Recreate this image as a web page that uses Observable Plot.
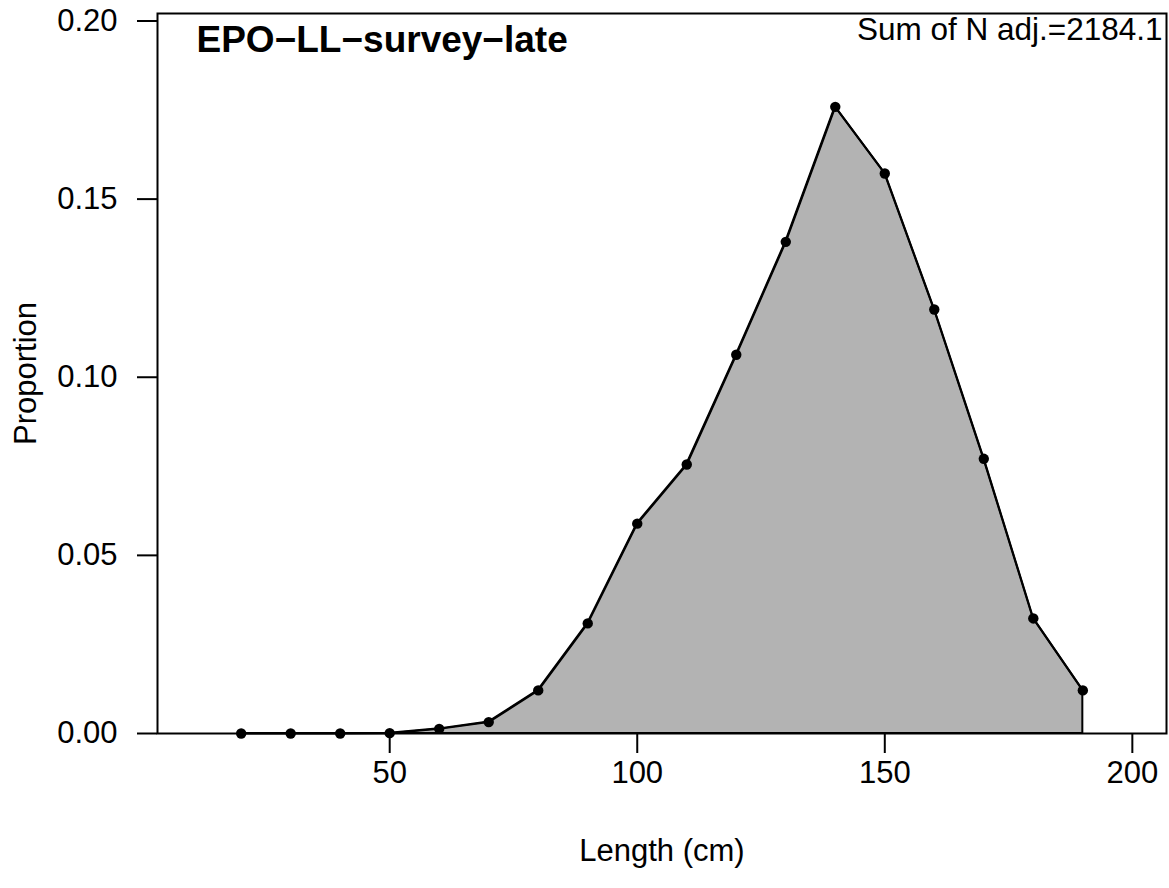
<!DOCTYPE html>
<html>
<head>
<meta charset="utf-8">
<script src="https://cdn.jsdelivr.net/npm/d3@7"></script>
<script src="https://cdn.jsdelivr.net/npm/@observablehq/plot@0.6"></script>
<style>
  html, body { margin: 0; padding: 0; background: #fff; }
</style>
</head>
<body>
<div id="chart"></div>
<script>
const lengths = [20, 30, 40, 50, 60, 70, 80, 90, 100, 110, 120, 130, 140, 150, 160, 170, 180, 190];
const proportions = [0, 0, 0, 0.0001, 0.0013, 0.0032, 0.0121, 0.0309, 0.0589, 0.0755, 0.1063, 0.1380, 0.1759, 0.1572, 0.1190, 0.0771, 0.0323, 0.0121];
const xTicks = [50, 100, 150, 200];
const yTicks = [0, 0.05, 0.10, 0.15, 0.20];
const fleetTitle = "EPO\u2212LL\u2212survey\u2212late";
const sumLabel = "Sum of N adj.=2184.1";
const xLabel = "Length (cm)";
const yLabel = "Proportion";

const data = lengths.map((L, i) => ({length: L, prop: proportions[i]}));

const font = "'Liberation Sans', Arial, Helvetica, sans-serif";

const chart = Plot.plot({
  width: 1169,
  height: 888,
  marginLeft: 157,
  marginRight: 3,
  marginTop: 13,
  marginBottom: 155,
  style: {fontFamily: font, fontSize: "31px", color: "black", background: "white"},
  x: {domain: [3.1, 206.9]},
  y: {domain: [0, 0.2021]},
  marks: [
    Plot.areaY(data, {x: "length", y: "prop", fill: "#b3b3b3", stroke: "black", strokeWidth: 2}),
    Plot.lineY(data, {x: "length", y: "prop", stroke: "black", strokeWidth: 2}),
    Plot.dot(data, {x: "length", y: "prop", r: 5.2, fill: "black", stroke: "none"}),
    Plot.frame({stroke: "black", strokeWidth: 2}),
    Plot.axisY({ticks: yTicks, tickFormat: d3.format(".2f"), tickSize: 20, tickPadding: 20, strokeWidth: 2, label: null, fontSize: 31}),
    Plot.axisX({ticks: xTicks, tickFormat: d => String(d), tickSize: 20, tickPadding: 7, strokeWidth: 2, label: null, fontSize: 31}),
    Plot.text([fleetTitle], {frameAnchor: "top-left", dx: 39, dy: 12, textAnchor: "start", lineAnchor: "top", fontWeight: "bold", fontSize: 37, fill: "black"}),
    Plot.text([sumLabel], {frameAnchor: "top-right", dx: -4, dy: 4, textAnchor: "end", lineAnchor: "top", fontSize: 31.5, fill: "black"}),
    Plot.text([xLabel], {frameAnchor: "bottom", dy: 118, textAnchor: "middle", lineAnchor: "middle", fontSize: 31, fill: "black"}),
    Plot.text([yLabel], {frameAnchor: "left", dx: -131, rotate: -90, textAnchor: "middle", lineAnchor: "middle", fontSize: 31, fill: "black"})
  ]
});
document.getElementById("chart").appendChild(chart);
</script>
</body>
</html>
